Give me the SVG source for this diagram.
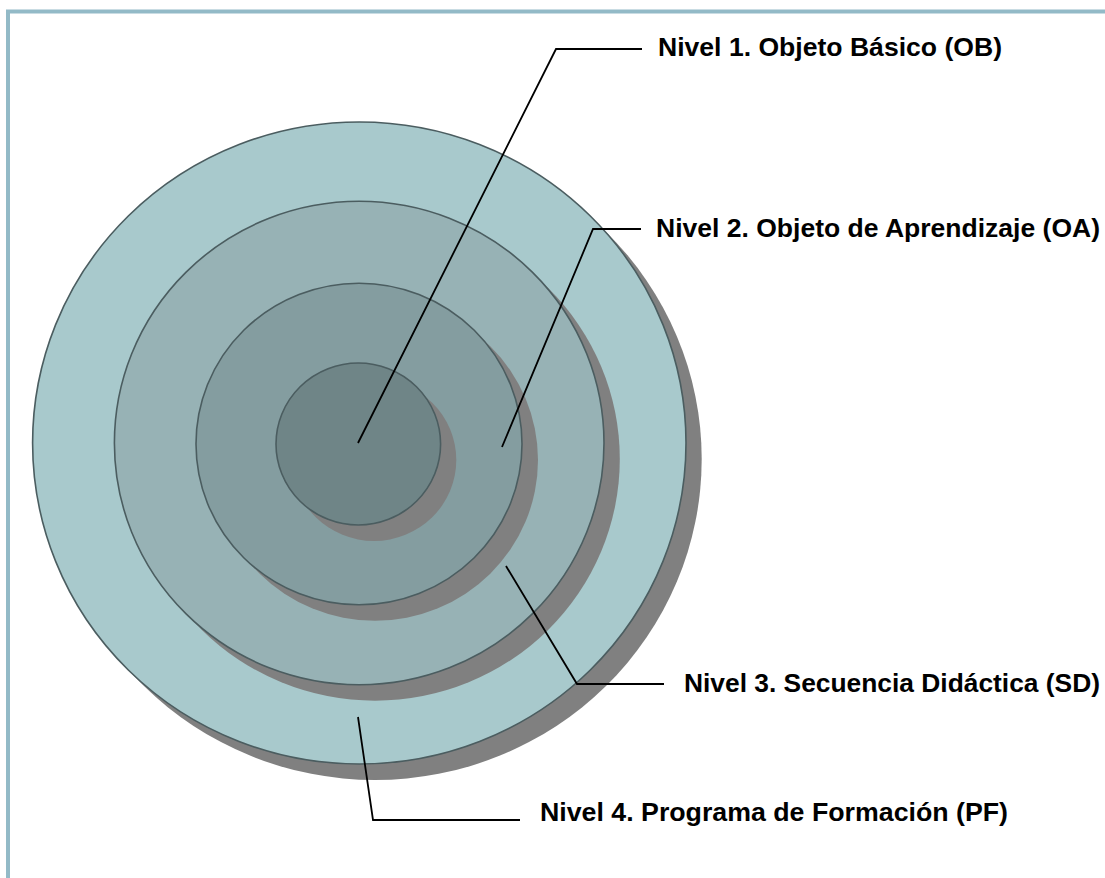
<svg xmlns="http://www.w3.org/2000/svg" width="1105" height="878" viewBox="0 0 1105 878">
<style>
.shadow{fill:#808080;stroke:none}
.ring{stroke:#4B5D60;stroke-width:1.6}
.lead{fill:none;stroke:#000;stroke-width:1.8}
.lbl{font-family:"Liberation Sans",Arial,sans-serif;font-weight:bold;font-size:25px;fill:#000}
</style>
<rect width="1105" height="878" fill="#fff"/>
<g id="frame" fill="none" stroke="#93BAC7" stroke-width="4">
<path d="M8,878 V11.5 H1105"/>
</g>
<g id="level4">
<ellipse class="shadow" cx="375" cy="459" rx="326.7" ry="321"/>
<ellipse class="ring" cx="359.3" cy="443" rx="326.7" ry="321" fill="#A8C9CC"/>
</g>
<g id="level3">
<ellipse class="shadow" cx="375" cy="459" rx="244.8" ry="241.7"/>
<ellipse class="ring" cx="359.2" cy="443" rx="244.8" ry="241.7" fill="#97B2B5"/>
</g>
<g id="level2">
<ellipse class="shadow" cx="375" cy="460" rx="163" ry="160.8"/>
<ellipse class="ring" cx="359" cy="444" rx="163" ry="160.8" fill="#849DA0"/>
</g>
<g id="level1">
<ellipse class="shadow" cx="374" cy="460" rx="82.3" ry="81"/>
<ellipse class="ring" cx="358.3" cy="444" rx="82.3" ry="81" fill="#6F8587"/>
</g>
<g id="connectors">
<polyline class="lead" points="358,443 556,49 642,49"/>
<polyline class="lead" points="502,447 593,229 641,229"/>
<polyline class="lead" points="506,566 577,684 664,684"/>
<polyline class="lead" points="358,717 373,820 520,820"/>
</g>
<g id="labels">
<text class="lbl" x="658" y="56" textLength="344" lengthAdjust="spacingAndGlyphs">Nivel 1. Objeto Básico (OB)</text>
<text class="lbl" x="656" y="237" textLength="444" lengthAdjust="spacingAndGlyphs">Nivel 2. Objeto de Aprendizaje (OA)</text>
<text class="lbl" x="684" y="692" textLength="416" lengthAdjust="spacingAndGlyphs">Nivel 3. Secuencia Didáctica (SD)</text>
<text class="lbl" x="540" y="821" textLength="468" lengthAdjust="spacingAndGlyphs">Nivel 4. Programa de Formación (PF)</text>
</g>
</svg>
